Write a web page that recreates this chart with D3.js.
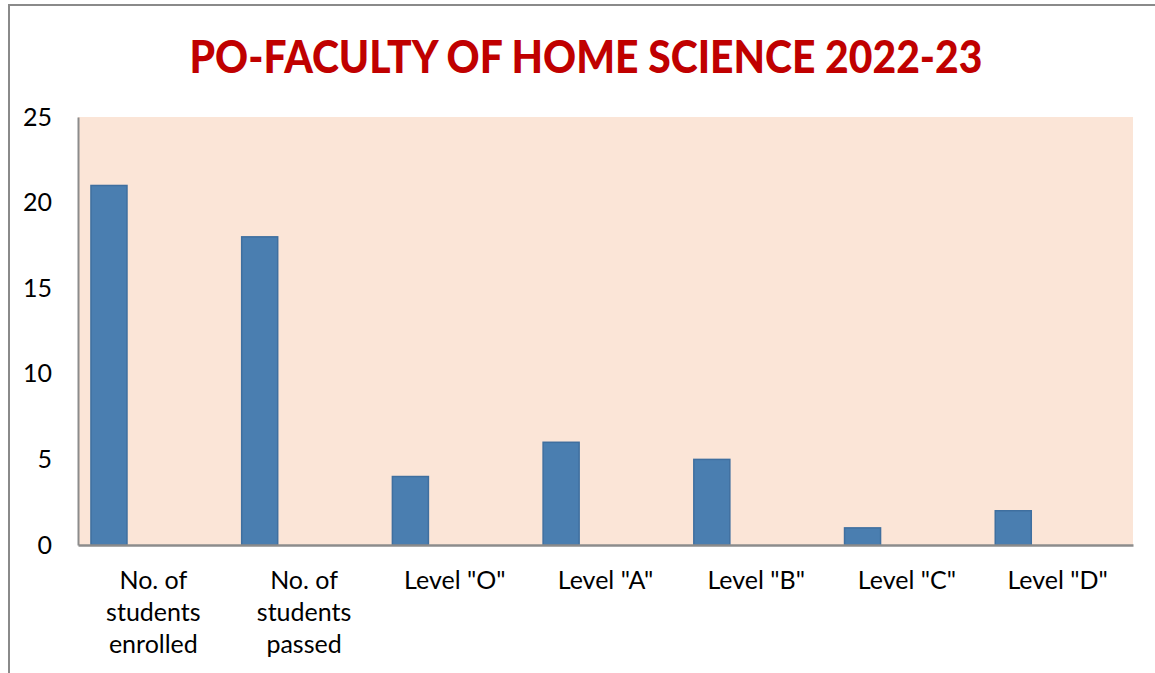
<!DOCTYPE html>
<html>
<head>
<meta charset="utf-8">
<script src="https://cdn.jsdelivr.net/npm/d3@7"></script>
<style>
  body { margin:0; background:#fff; }
  svg { display:block; }
  text { font-family: Lato, "Open Sans", sans-serif; fill:#000; }
</style>
</head>
<body>
<svg width="1155" height="673"></svg>
<script>
// chart data
var titleText = "PO-FACULTY OF HOME SCIENCE 2022-23";
var categories = ["No. of students enrolled", "No. of students passed", 'Level "O"', 'Level "A"', 'Level "B"', 'Level "C"', 'Level "D"'];
var values = [21, 18, 4, 6, 5, 1, 2];
var yTicks = [0, 5, 10, 15, 20, 25];

var width = 1155, height = 673;
var plot = {left:78, top:117, right:1133, bottom:545};

var svg = d3.select("svg");

// outer chart border
svg.append("rect")
   .attr("x", 9).attr("y", 5)
   .attr("width", width + 20).attr("height", height + 20)
   .attr("fill", "#fff")
   .attr("stroke", "#8a8a8a")
   .attr("stroke-width", 2);

// title
svg.append("text")
   .attr("x", 586).attr("y", 73)
   .attr("text-anchor", "middle")
   .attr("textLength", 793)
   .attr("lengthAdjust", "spacingAndGlyphs")
   .style("font-size", "46px")
   .style("font-weight", "900")
   .style("fill", "#c00000")
   .text(titleText);

var x = d3.scaleBand().domain(categories).range([plot.left, plot.right]).padding(0);
var y = d3.scaleLinear().domain([0, 25]).range([plot.bottom, plot.top]);

// plot background
svg.append("rect")
   .attr("x", plot.left).attr("y", plot.top)
   .attr("width", plot.right - plot.left).attr("height", plot.bottom - plot.top)
   .attr("fill", "#fbe5d7");

// bars (sit at the left part of each slot, like a 2-series excel chart with one empty)
var bw = x.bandwidth();
svg.append("g").selectAll("rect")
   .data(values)
   .enter().append("rect")
   .attr("x", function(d, i){ return x(categories[i]) + bw * 0.086; })
   .attr("y", function(d){ return y(d); })
   .attr("width", bw * 0.239)
   .attr("height", function(d){ return y(0) - y(d); })
   .attr("fill", "#4a7eb0")
   .attr("stroke", "#3f6f9f")
   .attr("stroke-width", 1.5);

// y axis
var yAxis = svg.append("g")
   .attr("transform", "translate(" + plot.left + ",0)")
   .call(d3.axisLeft(y).tickValues(yTicks).tickSize(0).tickSizeOuter(0).tickPadding(26));
yAxis.select(".domain").attr("stroke", "#8c8c8c").attr("stroke-width", 2);
yAxis.selectAll("text").style("font-size", "25px").attr("font-family", null);

// x axis
var xAxis = svg.append("g")
   .attr("transform", "translate(0," + plot.bottom + ")")
   .call(d3.axisBottom(x).tickSize(0).tickSizeOuter(0).tickPadding(26));
xAxis.select(".domain").attr("stroke", "#8c8c8c").attr("stroke-width", 2.5);
xAxis.selectAll("text").style("font-size", "25px").attr("font-family", null).call(wrap, 120);

// 把长标签按宽度换行
function wrap(sel, maxW){
  sel.each(function(){
    var t = d3.select(this);
    var words = t.text().split(" ");
    var yy = t.attr("y"), dy = parseFloat(t.attr("dy"));
    t.text(null);
    var line = [], lineNo = 0;
    var tspan = t.append("tspan").attr("x", 0).attr("y", yy).attr("dy", dy + "em");
    words.forEach(function(w){
      line.push(w);
      tspan.text(line.join(" "));
      if(tspan.node().getComputedTextLength() > maxW && line.length > 1){
        line.pop();
        tspan.text(line.join(" "));
        line = [w];
        lineNo++;
        tspan = t.append("tspan").attr("x", 0).attr("y", yy)
                 .attr("dy", (lineNo * 1.29 + dy) + "em").text(w);
      }
    });
  });
}
</script>
</body>
</html>
